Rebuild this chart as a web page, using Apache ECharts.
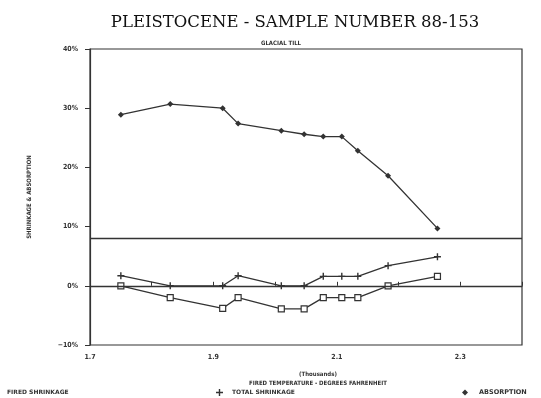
<!DOCTYPE html>
<html><head><meta charset="utf-8">
<script src="https://cdn.jsdelivr.net/npm/echarts@6/dist/echarts.min.js"></script>
<style>html,body{margin:0;padding:0;background:#fff}#c{width:541px;height:398px}</style>
</head><body><div id="c"></div>
<script>
const temps = [1.75, 1.83, 1.915, 1.94, 2.01, 2.047, 2.078, 2.108, 2.134, 2.183, 2.263];
const absorption = [28.9, 30.7, 30.0, 27.4, 26.2, 25.6, 25.2, 25.2, 22.8, 18.6, 9.7];
const totalShrinkage = [1.7, 0, 0, 1.7, 0, 0, 1.6, 1.6, 1.6, 3.4, 4.9];
const firedShrinkage = [0, -2.0, -3.8, -2.0, -3.9, -3.9, -2.0, -2.0, -2.0, 0, 1.6];
const xLabels = ['1.7', '1.9', '2.1', '2.3'];
const refLines = [8, 0];

const ink = '#333';
const txt = {fontFamily: 'DejaVu Sans Condensed, DejaVu Sans', fontSize: 7, fontWeight: 'bold', color: ink};
const legTxt = {fontFamily: 'DejaVu Sans', fontSize: 6, fontWeight: 'bold', color: ink};
const pair = (ys) => temps.map((t, i) => [t, ys[i]]);
const plusPath = 'path://M4,0H6V4H10V6H6V10H4V6H0V4H4Z';

const chart = echarts.init(document.getElementById('c'), null, {renderer: 'canvas'});
chart.setOption({
  backgroundColor: '#fff',
  animation: false,
  title: [
    {text: 'PLEISTOCENE - SAMPLE NUMBER 88-153', left: 290, top: 9, textAlign: 'center',
     textStyle: {fontFamily: 'DejaVu Serif', fontSize: 16.5, fontWeight: 'normal', color: '#111'}},
    {text: 'GLACIAL TILL', left: 276, top: 35, textAlign: 'center',
     textStyle: Object.assign({}, txt, {fontSize: 6})}
  ],
  grid: {left: 90, right: 19, top: 49, bottom: 53, show: true, borderColor: ink, borderWidth: 1.2, backgroundColor: 'transparent'},
  xAxis: {
    type: 'value', min: 1.7, max: 2.4, interval: 0.1,
    axisLine: {lineStyle: {color: ink, width: 1.2}},
    axisTick: {inside: true, length: 4, lineStyle: {color: ink}},
    splitLine: {show: false},
    axisLabel: Object.assign({}, txt, {margin: 9, formatter: v => {
      const s = (Math.round(v * 10) / 10).toFixed(1);
      return xLabels.includes(s) ? s : '';
    }}),
    name: '(Thousands)\nFIRED TEMPERATURE - DEGREES FAHRENHEIT',
    nameLocation: 'middle', nameGap: 25,
    nameTextStyle: Object.assign({}, txt, {fontSize: 6, lineHeight: 9, padding: [0, 0, 0, 24]})
  },
  yAxis: {
    type: 'value', min: -10, max: 40, interval: 10,
    axisLine: {show: true, lineStyle: {color: ink, width: 1.2}},
    axisTick: {show: true, length: 5, lineStyle: {color: ink}},
    splitLine: {show: false},
    axisLabel: Object.assign({}, txt, {margin: 12, formatter: v => (v < 0 ? '\u2212' + (-v) : v) + '%'}),
    name: 'SHRINKAGE & ABSORPTION', nameLocation: 'middle', nameGap: 58, nameRotate: 90,
    nameTextStyle: Object.assign({}, txt, {fontSize: 6})
  },
  legend: [
    {data: [{name: 'FIRED SHRINKAGE', icon: 'rect'}], left: -14, bottom: -3, itemWidth: 6, itemHeight: 6, textStyle: Object.assign({}, legTxt, {padding: [0, 0, 0, 4]})},
    {data: [{name: 'TOTAL SHRINKAGE', icon: plusPath}], left: 211, bottom: -3, itemWidth: 7, itemHeight: 7, textStyle: Object.assign({}, legTxt, {padding: [0, 0, 0, 4]})},
    {data: [{name: 'ABSORPTION', icon: 'diamond'}], left: 457, bottom: -3, itemWidth: 6, itemHeight: 6, textStyle: Object.assign({}, legTxt, {fontSize: 6.5, padding: [0, 0, 0, 6]})}
  ],
  series: [
    {name: 'FIRED SHRINKAGE', type: 'line', data: pair(firedShrinkage), symbol: 'rect', symbolSize: 6,
     itemStyle: {color: '#fff', borderColor: ink, borderWidth: 1.2}, lineStyle: {color: ink, width: 1.3}},
    {name: 'TOTAL SHRINKAGE', type: 'line', data: pair(totalShrinkage), symbol: plusPath, symbolSize: 7,
     itemStyle: {color: ink}, lineStyle: {color: ink, width: 1.3}},
    {name: 'ABSORPTION', type: 'line', data: pair(absorption), symbol: 'diamond', symbolSize: 6,
     itemStyle: {color: ink}, lineStyle: {color: ink, width: 1.3},
     markLine: {silent: true, symbol: 'none', label: {show: false},
       lineStyle: {color: ink, width: 1.3, type: 'solid'},
       data: refLines.map(v => ({yAxis: v}))}}
  ]
});
</script></body></html>
